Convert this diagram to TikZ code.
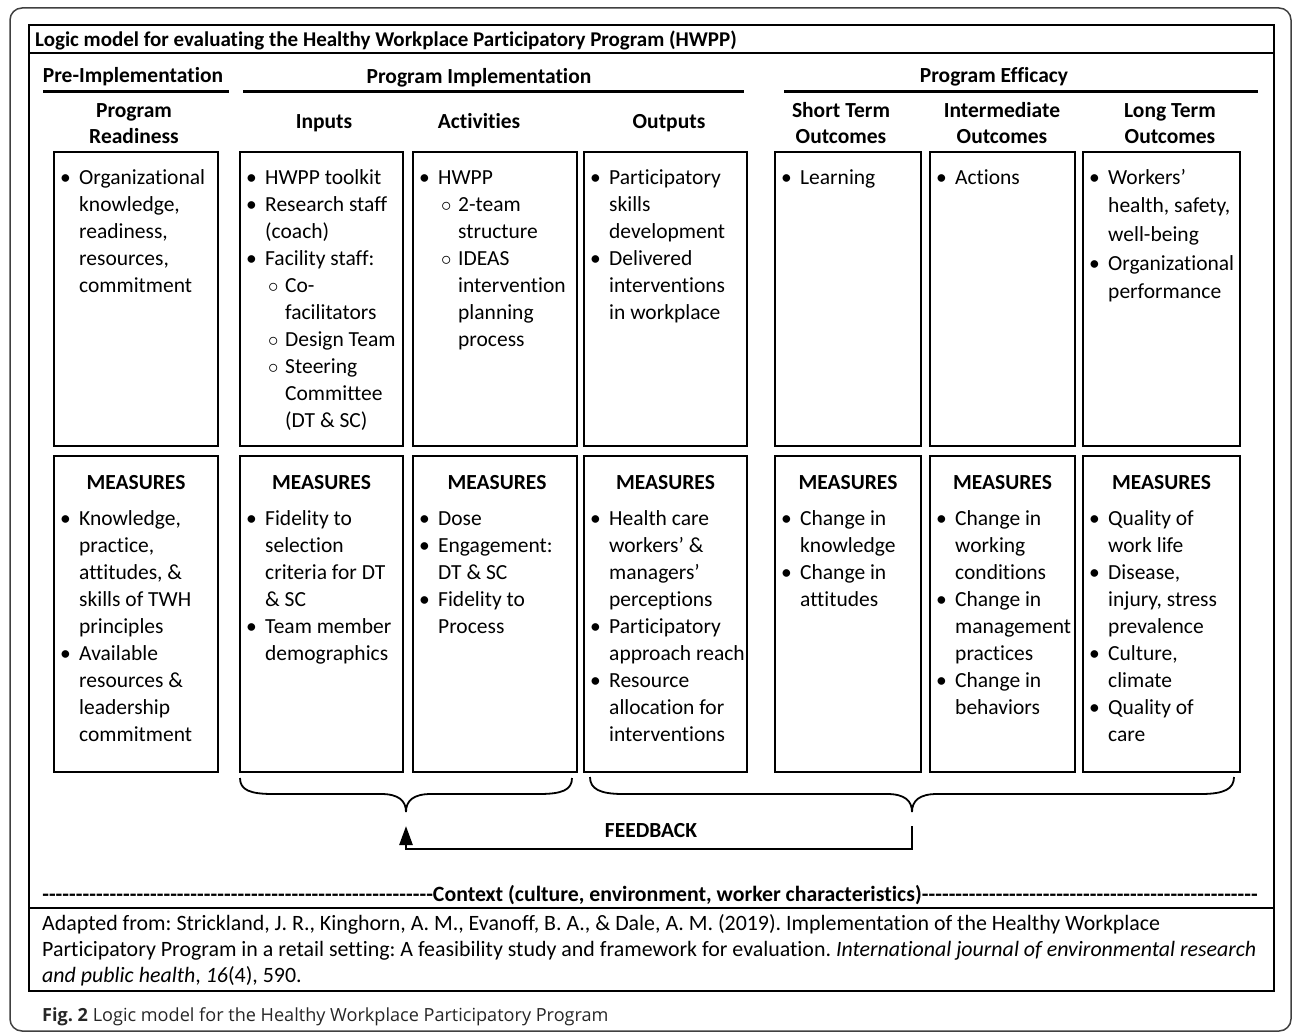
\documentclass[tikz,border=0pt]{standalone}
\usepackage{fontspec}
\setmainfont{Carlito}[Ligatures={TeX,NoCommon}]
\newfontfamily\capfont{Open Sans}
\usetikzlibrary{arrows.meta,fit}
\frenchspacing
\newcommand{\bitem}[1]{\makebox[19pt][l]{•}#1}
\newcommand{\bcont}[1]{\hspace*{19pt}#1}
\newcommand{\sitem}[1]{\hspace*{21pt}\makebox[18pt][l]{\hspace*{1pt}\ensuremath{\circ}}#1}
\newcommand{\scont}[1]{\hspace*{39pt}#1}
\newcommand{\blk}[2][27]{\fontsize{21.5}{#1}\selectfont\begin{tabular}[t]{@{}l@{}}#2\end{tabular}}
\newcommand{\hblk}[1]{\fontsize{21.5}{26}\selectfont\bfseries\begin{tabular}[t]{@{}c@{}}#1\end{tabular}}
\tikzset{
  cbox/.style={draw=black, line width=1.8pt, inner sep=0pt},
  txt/.style={anchor=base west, inner sep=0pt, text=black},
  hdr/.style={anchor=base, inner sep=0pt, text=black},
  rule/.style={line width=2.4pt, black},
  brace/.style={line width=1.8pt, black},
  fbarrow/.style={line width=2.6pt, black, -{Triangle[width=13pt,length=19pt]}},
}
\begin{document}
\begin{tikzpicture}[x=1pt,y=-1pt]
\useasboundingbox (0,0) rectangle (1292,1033);
% frames
\draw[line width=1.5pt, black!75, rounded corners=12pt] (10,8) rectangle (1291,1031);
\node[draw=black, line width=1.4pt, inner sep=0pt, fit={(29,25)(1274,991)}] (inner) {};
\draw[line width=1.4pt] (29,53) -- (1274,53);
\draw[line width=1.4pt] (29,908) -- (1274,908);
% title
\node[txt] (title) at (35,47) {\fontsize{21}{26}\selectfont\bfseries Logic model for evaluating the Healthy Workplace Participatory Program (HWPP)};
% phase headers
\node[hdr] (h1) at (133,82) {\fontsize{21.5}{26}\selectfont\bfseries Pre-Implementation};
\node[hdr] (h2) at (479,83) {\fontsize{21.5}{26}\selectfont\bfseries Program Implementation};
\node[hdr] (h3) at (994,82) {\fontsize{21.5}{26}\selectfont\bfseries Program Efficacy};
\draw[rule] (43,91.5) -- (229,91.5);
\draw[rule] (243,91.5) -- (744,91.5);
\draw[rule] (784,91.5) -- (1258,91.5);
% column headers
\node[hdr] (cA) at (134,117) {\hblk{Program\\Readiness}};
\node[hdr] (cB) at (324,128) {\hblk{Inputs}};
\node[hdr] (cC) at (479,128) {\hblk{Activities}};
\node[hdr] (cD) at (669,128) {\hblk{Outputs}};
\node[hdr] (cE) at (841,117) {\hblk{Short Term\\Outcomes}};
\node[hdr] (cF) at (1002,117) {\hblk{Intermediate\\Outcomes}};
\node[hdr] (cG) at (1170,117) {\hblk{Long Term\\Outcomes}};
% boxes row 1
\node[cbox, fit={(54,152)(218,446)}] (A1) {};
\node[cbox, fit={(240,152)(403,446)}] (B1) {};
\node[cbox, fit={(413,152)(577,446)}] (C1) {};
\node[cbox, fit={(584,152)(747,446)}] (D1) {};
\node[cbox, fit={(775,152)(921,446)}] (E1) {};
\node[cbox, fit={(930,152)(1075,446)}] (F1) {};
\node[cbox, fit={(1083,152)(1240,446)}] (G1) {};
% boxes row 2
\node[cbox, fit={(54,456)(218,772)}] (A2) {};
\node[cbox, fit={(240,456)(403,772)}] (B2) {};
\node[cbox, fit={(413,456)(577,772)}] (C2) {};
\node[cbox, fit={(584,456)(747,772)}] (D2) {};
\node[cbox, fit={(775,456)(921,772)}] (E2) {};
\node[cbox, fit={(930,456)(1075,772)}] (F2) {};
\node[cbox, fit={(1083,456)(1240,772)}] (G2) {};
% row 1 contents
\node[txt] (tA1) at (60,184) {\blk{\bitem{Organizational}\\\bcont{knowledge,}\\\bcont{readiness,}\\\bcont{resources,}\\\bcont{commitment}}};
\node[txt] (tB1) at (246,184) {\blk{\bitem{HWPP toolkit}\\\bitem{Research staff}\\\bcont{(coach)}\\\bitem{Facility staff:}\\\sitem{Co-}\\\scont{facilitators}\\\sitem{Design Team}\\\sitem{Steering}\\\scont{Committee}\\\scont{(DT \& SC)}}};
\node[txt] (tC1) at (419,184) {\blk{\bitem{HWPP}\\\sitem{2-team}\\\scont{structure}\\\sitem{IDEAS}\\\scont{intervention}\\\scont{planning}\\\scont{process}}};
\node[txt] (tD1) at (590,184) {\blk{\bitem{Participatory}\\\bcont{skills}\\\bcont{development}\\\bitem{Delivered}\\\bcont{interventions}\\\bcont{in workplace}}};
\node[txt] (tE1) at (781,184) {\blk{\bitem{Learning}}};
\node[txt] (tF1) at (936,184) {\blk{\bitem{Actions}}};
\node[txt] (tG1) at (1089,184) {\blk[28.7]{\bitem{Workers’}\\\bcont{health, safety,}\\\bcont{well-being}\\\bitem{Organizational}\\\bcont{performance}}};
% row 2 headers
\node[hdr] (mA) at (136,489) {\hblk{MEASURES}};
\node[hdr] (mB) at (321.5,489) {\hblk{MEASURES}};
\node[hdr] (mC) at (497,489) {\hblk{MEASURES}};
\node[hdr] (mD) at (665.5,489) {\hblk{MEASURES}};
\node[hdr] (mE) at (848,489) {\hblk{MEASURES}};
\node[hdr] (mF) at (1002.5,489) {\hblk{MEASURES}};
\node[hdr] (mG) at (1161.5,489) {\hblk{MEASURES}};
% row 2 contents
\node[txt] (tA2) at (60,525) {\blk{\bitem{Knowledge,}\\\bcont{practice,}\\\bcont{attitudes, \&}\\\bcont{skills of TWH}\\\bcont{principles}\\\bitem{Available}\\\bcont{resources \&}\\\bcont{leadership}\\\bcont{commitment}}};
\node[txt] (tB2) at (246,525) {\blk{\bitem{Fidelity to}\\\bcont{selection}\\\bcont{criteria for DT}\\\bcont{\& SC}\\\bitem{Team member}\\\bcont{demographics}}};
\node[txt] (tC2) at (419,525) {\blk{\bitem{Dose}\\\bitem{Engagement:}\\\bcont{DT \& SC}\\\bitem{Fidelity to}\\\bcont{Process}}};
\node[txt] (tD2) at (590,525) {\blk{\bitem{Health care}\\\bcont{workers’ \&}\\\bcont{managers’}\\\bcont{perceptions}\\\bitem{Participatory}\\\bcont{approach reach}\\\bitem{Resource}\\\bcont{allocation for}\\\bcont{interventions}}};
\node[txt] (tE2) at (781,525) {\blk{\bitem{Change in}\\\bcont{knowledge}\\\bitem{Change in}\\\bcont{attitudes}}};
\node[txt] (tF2) at (936,525) {\blk{\bitem{Change in}\\\bcont{working}\\\bcont{conditions}\\\bitem{Change in}\\\bcont{management}\\\bcont{practices}\\\bitem{Change in}\\\bcont{behaviors}}};
\node[txt] (tG2) at (1089,525) {\blk{\bitem{Quality of}\\\bcont{work life}\\\bitem{Disease,}\\\bcont{injury, stress}\\\bcont{prevalence}\\\bitem{Culture,}\\\bcont{climate}\\\bitem{Quality of}\\\bcont{care}}};
% braces
\coordinate (tipL) at (406,812);
\coordinate (tipR) at (912,812);
\draw[brace] (240,778) .. controls (240,790) and (250,794) .. (273,794) -- (381,794)
  .. controls (399,794) and (406,801) .. (tipL)
  .. controls (406,801) and (413,794) .. (431,794) -- (539,794)
  .. controls (562,794) and (572,790) .. (572,778);
\draw[brace] (590,777) .. controls (590,789) and (600,794) .. (623,794) -- (887,794)
  .. controls (905,794) and (912,801) .. (tipR)
  .. controls (912,801) and (919,794) .. (937,794) -- (1201,794)
  .. controls (1224,794) and (1234,789) .. (1234,777);
% feedback
\coordinate (fbR) at (912,826);
\coordinate (fbL) at (406,826);
\draw[fbarrow] (fbR) -- ++(0,23) -| (fbL);
\node[hdr] (fb) at (651,837) {\hblk{FEEDBACK}};
% context
\node[txt] (ctx) at (42,901) {\fontsize{21.8}{26}\selectfont\bfseries\hbox to 1216pt{\xleaders\hbox{-}\hskip 0pt plus 1.163fil Context (culture, environment, worker characteristics)\xleaders\hbox{-}\hskip 0pt plus 1fil}};
% citation
\node[txt] (cite) at (42,930) {\fontsize{21.9}{26}\selectfont\begin{tabular}[t]{@{}l@{}}Adapted from: Strickland, J. R., Kinghorn, A. M., Evanoff, B. A., \& Dale, A. M. (2019). Implementation of the Healthy Workplace\\Participatory Program in a retail setting: A feasibility study and framework for evaluation. \textit{International journal of environmental research}\\\textit{and public health}, \textit{16}(4), 590.\end{tabular}};
% caption
\node[txt, text=black!85] (cap) at (42,1021) {\capfont\fontsize{18.1}{21}\selectfont\textbf{Fig. 2} Logic model for the Healthy Workplace Participatory Program};
\end{tikzpicture}
\end{document}
